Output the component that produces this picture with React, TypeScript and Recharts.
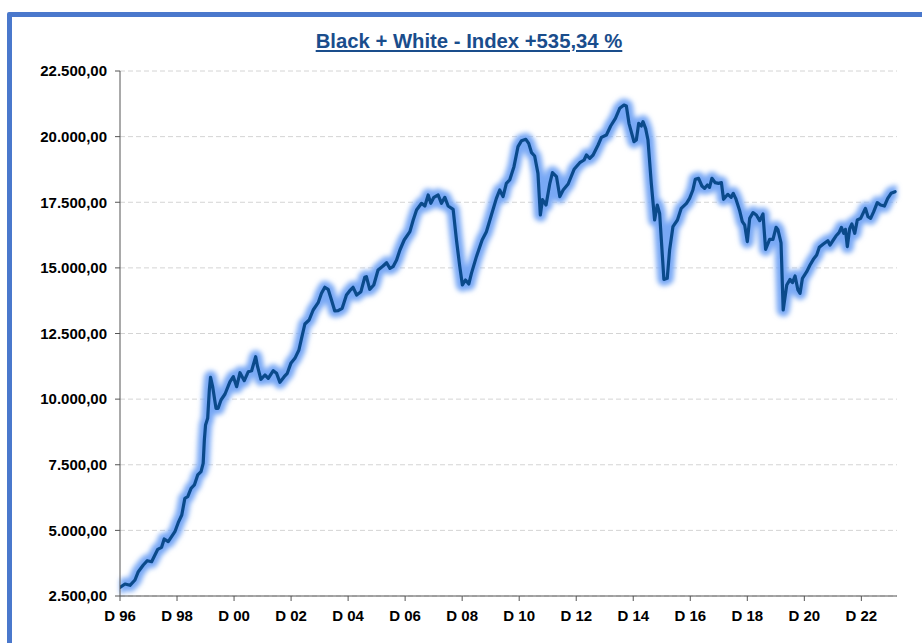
import React from "react";
import { LineChart, Line, XAxis, YAxis, CartesianGrid } from "recharts";

// months since December 1996
const months = [
  0, 2.1, 4.2, 6.3, 7.7, 9.8, 11.5, 13.3, 14.7, 15.9,
  17.5, 18.6, 20.3, 21.7, 23.1, 24.5, 26.0, 27.3, 28.5, 29.9,
  31.3, 32.7, 34.1, 35.0, 35.5, 36.0, 36.9, 37.6, 38.1, 39.0,
  40.4, 41.3, 42.5, 44.2, 46.3, 47.7, 49.1, 50.5, 52.3, 54.0,
  55.4, 57.1, 57.9, 59.3, 61.0, 62.4, 64.5, 65.9, 67.3, 69.1,
  70.4, 71.9, 73.6, 75.3, 76.4, 77.8, 79.6, 81.3, 83.4, 84.8,
  86.2, 87.6, 89.0, 90.4, 91.8, 93.5, 95.3, 96.7, 98.1, 99.6,
  101.4, 103.0, 103.7, 105.1, 106.8, 108.6, 109.8, 110.7, 112.2, 113.6,
  114.9, 116.4, 117.8, 119.6, 122.0, 123.4, 124.8, 126.9, 128.3, 129.7,
  130.8, 132.1, 133.9, 135.3, 136.7, 138.1, 140.2, 141.6, 143.0, 144.1,
  145.4, 146.8, 147.9, 150.0, 152.4, 154.2, 156.3, 158.4, 159.8, 161.2,
  162.6, 164.0, 165.8, 167.5, 169.0, 170.8, 172.0, 173.2, 174.5, 175.9,
  176.9, 177.8, 179.3, 180.9, 182.0, 183.7, 185.1, 186.5, 188.6, 191.1,
  193.5, 195.3, 196.3, 197.7, 199.1, 201.2, 202.6, 204.7, 206.5, 208.5,
  210.3, 212.1, 213.1, 214.2, 216.3, 217.3, 218.3, 219.4, 220.1, 221.2,
  222.2, 223.6, 225.0, 226.1, 227.1, 228.1, 228.9, 230.3, 231.3, 232.7,
  234.6, 236.2, 238.4, 239.7, 241.1, 242.1, 243.5, 244.9, 246.0, 247.2,
  248.1, 249.1, 250.5, 251.9, 253.1, 254.0, 255.8, 257.2, 258.1, 259.1,
  260.7, 261.9, 262.9, 264.0, 265.0, 266.4, 267.8, 269.2, 270.6, 271.7,
  273.4, 274.8, 276.1, 276.9, 278.2, 279.1, 280.6, 282.0, 283.0, 284.1,
  285.3, 286.2, 287.2, 289.0, 290.4, 291.8, 293.2, 294.3, 296.0, 297.9,
  298.8, 300.2, 301.3, 302.6, 303.6, 304.6, 305.3, 306.1, 307.1, 308.0,
  309.2, 310.3, 311.7, 312.7, 313.7, 314.8, 315.9, 317.2, 318.7, 320.1,
  321.7, 323.1, 324.5, 326.2,
];

const indexValues = [
  2830, 2957, 2907, 3110, 3426, 3680, 3845, 3807, 4062, 4279,
  4355, 4671, 4569, 4760, 4950, 5293, 5586, 6222, 6283, 6603,
  6729, 7110, 7236, 7555, 8443, 9014, 9269, 10348, 10832, 10474,
  9650, 9650, 9967, 10195, 10664, 10855, 10474, 11007, 10703, 11045,
  11083, 11617, 11236, 10755, 10919, 10792, 11083, 10983, 10640, 10855,
  10983, 11363, 11554, 11871, 12316, 12862, 13014, 13395, 13674, 14031,
  14260, 14184, 13776, 13357, 13369, 13460, 13967, 14131, 14260, 13967,
  14094, 14641, 14665, 14184, 14348, 14919, 15008, 15071, 15197, 14983,
  15046, 15300, 15681, 16062, 16379, 16824, 17205, 17459, 17357, 17776,
  17459, 17687, 17776, 17459, 17687, 17357, 17230, 16062, 15046, 14348,
  14538, 14386, 14792, 15427, 16062, 16379, 17014, 17649, 17967, 17713,
  18221, 18348, 18855, 19617, 19846, 19897, 19744, 19389, 19262, 18600,
  17014, 17600, 17395, 18221, 18627, 18475, 17713, 17967, 18195, 18754,
  19008, 19110, 19300, 19173, 19300, 19681, 19973, 20062, 20405, 20697,
  21078, 21205, 21167, 20506, 19808, 19871, 20506, 20405, 20570, 20316,
  19871, 18221, 16824, 17395, 17078, 15681, 14563, 14602, 15681, 16570,
  16824, 17268, 17459, 17649, 17967, 18373, 18412, 18119, 18030, 18157,
  18068, 18412, 18246, 18221, 18246, 17611, 17802, 17687, 17840, 17649,
  17205, 16760, 16633, 16000, 16887, 17103, 17014, 16798, 17052, 15706,
  16087, 16087, 16544, 16450, 15950, 13395, 14348, 14563, 14436, 14690,
  14157, 14031, 14602, 14855, 15110, 15326, 15490, 15782, 15909, 16036,
  15871, 16062, 16214, 16341, 16544, 16316, 16468, 15808, 16506, 16671,
  16316, 16824, 16887, 17078, 17268, 16951, 16887, 17141, 17484, 17395,
  17357, 17649, 17840, 17903,
];

const xTickMonths = [0, 24, 48, 72, 96, 120, 144, 168, 192, 216, 240, 264, 288, 312];
const xTickLabels = ["D 96", "D 98", "D 00", "D 02", "D 04", "D 06", "D 08", "D 10", "D 12", "D 14", "D 16", "D 18", "D 20", "D 22"];
const yTicks = [2500, 5000, 7500, 10000, 12500, 15000, 17500, 20000, 22500];

const title = "Black + White - Index +535,34 %";

const data = months.map((m, i) => ({ m, v: indexValues[i] }));

const fmtDE = (v: number) => {
  const int = Math.floor(v).toString().replace(/\B(?=(\d{3})+(?!\d))/g, ".");
  return int + ",00";
};

const tickStyle = {
  fill: "#000",
  fontSize: 15,
  fontWeight: 700,
  fontFamily: "'Liberation Sans', Arial, sans-serif",
};

export default function App() {
  return (
    <div
      style={{
        position: "absolute",
        left: 0,
        top: 0,
        width: 922,
        height: 643,
        background: "#fff",
        overflow: "hidden",
      }}
    >
      <style>{`.glowline { filter: url(#glowf); }`}</style>
      <svg width="0" height="0" style={{ position: "absolute" }}>
        <defs>
          <filter id="glowf" x="-10%" y="-10%" width="120%" height="120%">
            <feGaussianBlur stdDeviation="2.4" />
          </filter>
        </defs>
      </svg>
      <div
        style={{
          position: "absolute",
          left: 7,
          top: 12,
          width: 1000,
          height: 1000,
          border: "5px solid #4a78cc",
          borderRadius: 2,
          boxSizing: "border-box",
        }}
      />
      <div
        style={{
          position: "absolute",
          left: 0,
          top: 29,
          width: 938,
          textAlign: "center",
          fontFamily: "'Liberation Sans', Arial, sans-serif",
          fontWeight: 700,
          fontSize: 20.3,
          lineHeight: "24px",
          color: "#1a4d8c",
          textDecoration: "underline",
        }}
      >
        {title}
      </div>
      <div style={{ position: "absolute", left: 0, top: 0 }}>
        <LineChart
          width={922}
          height={643}
          data={data}
          margin={{ top: 71, right: 25, bottom: 17, left: 0 }}
        >
          <CartesianGrid vertical={false} stroke="#d4d4d4" strokeDasharray="5 3" />
          <XAxis
            dataKey="m"
            type="number"
            domain={[0, 327]}
            ticks={xTickMonths}
            tickFormatter={(t: number) => xTickLabels[xTickMonths.indexOf(t)] ?? ""}
            tick={tickStyle}
            tickSize={5}
            tickMargin={9}
            height={30}
            stroke="#555"
            allowDataOverflow
            interval={0}
          />
          <YAxis
            type="number"
            domain={[2500, 22500]}
            ticks={yTicks}
            tickFormatter={fmtDE}
            tick={tickStyle}
            tickSize={5}
            tickMargin={8}
            width={120}
            stroke="#555"
            interval={0}
          />
          <Line
            className="glowline"
            type="linear"
            dataKey="v"
            stroke="#78a8f5"
            strokeWidth={13}
            dot={false}
            activeDot={false}
            isAnimationActive={false}
            strokeLinejoin="round"
            strokeLinecap="round"
          />
          <Line
            type="linear"
            dataKey="v"
            stroke="#0b4a8b"
            strokeWidth={3.2}
            dot={false}
            activeDot={false}
            isAnimationActive={false}
            strokeLinejoin="round"
            strokeLinecap="round"
          />
        </LineChart>
      </div>
    </div>
  );
}
